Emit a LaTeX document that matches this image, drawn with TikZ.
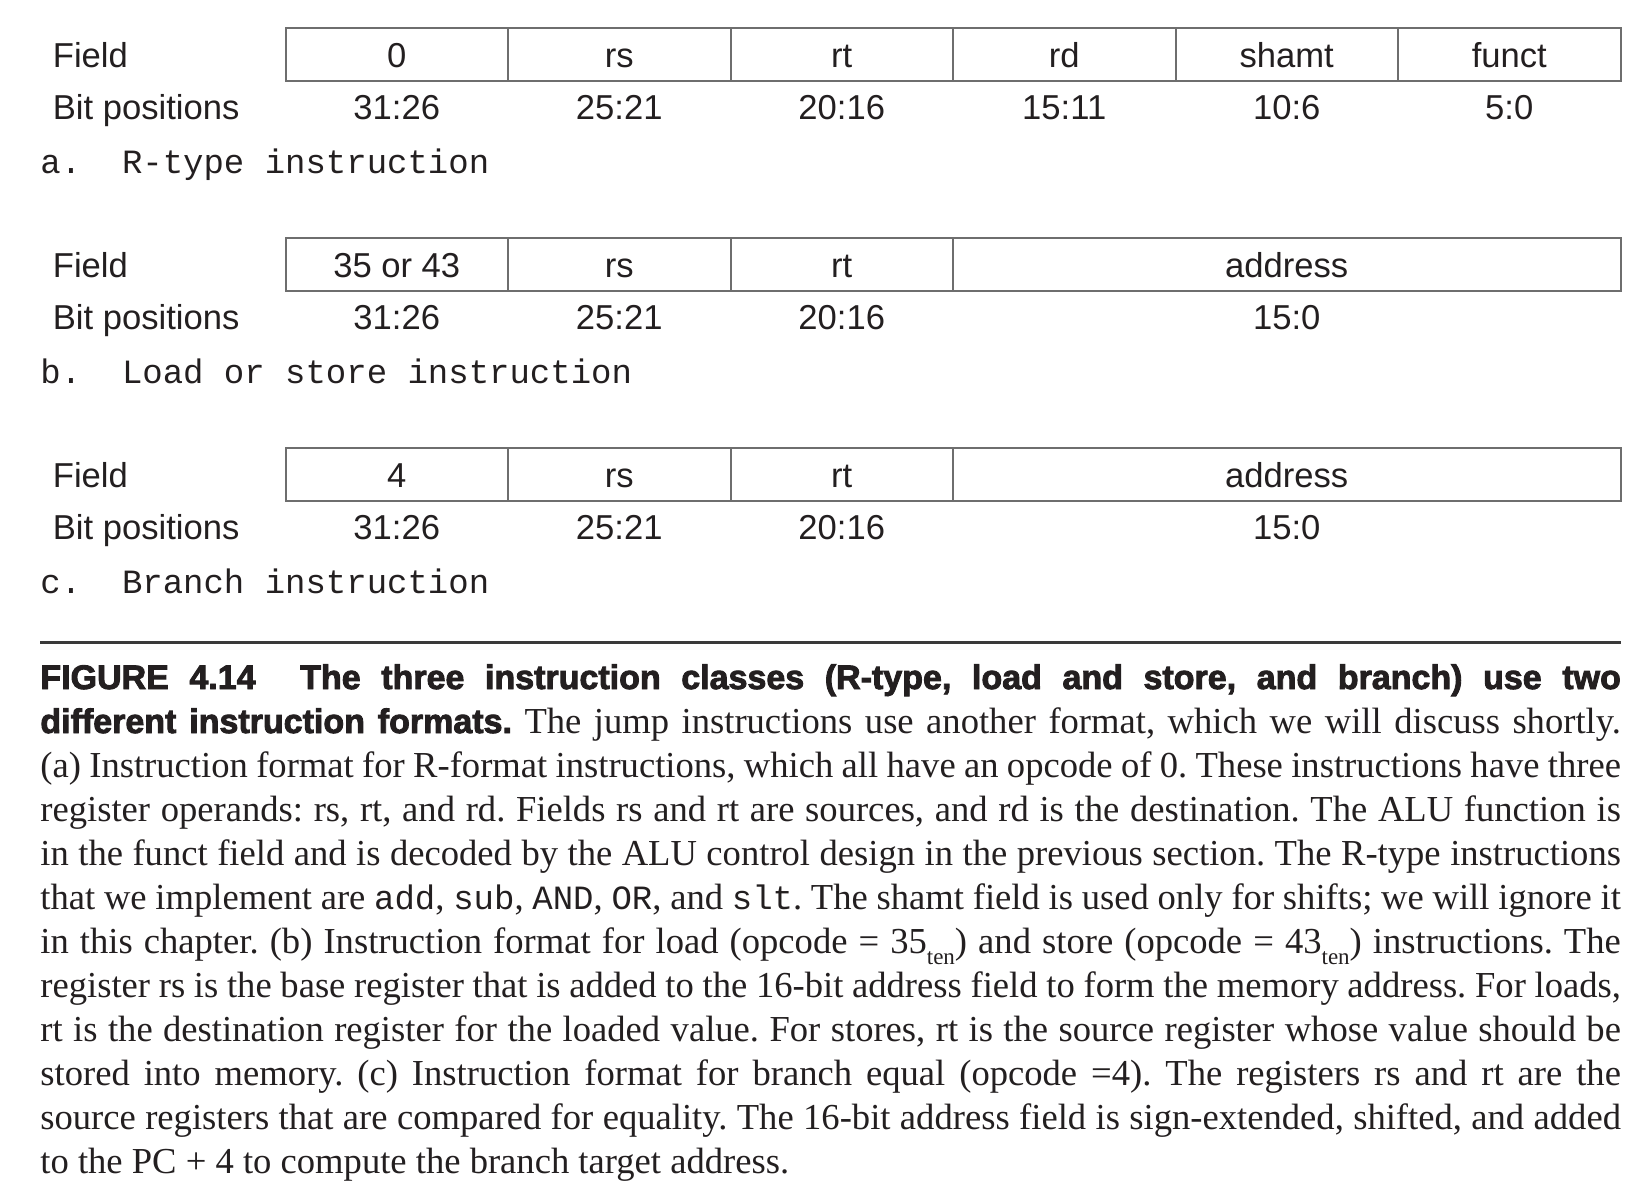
\documentclass[tikz,border=0pt]{standalone}
\usepackage{fontspec}
\setmainfont{Liberation Serif}
\newfontfamily\lblfont{Liberation Sans}
\newfontfamily\kindfont{Liberation Mono}
\newfontfamily\headfont[BoldFeatures={FakeBold=2.6}]{Liberation Sans}
\usetikzlibrary{positioning}

\definecolor{boxgray}{HTML}{6E6E6E}
\definecolor{rulegray}{HTML}{3A3A3A}
\definecolor{inkblack}{HTML}{231F20}

\newcommand\lblsize{\lblfont\fontsize{17.3}{20}\selectfont}
\newcommand\capsize{\fontsize{18.3}{22}\selectfont\frenchspacing}
\newcommand\monoword[1]{{\kindfont\fontsize{17}{20}\selectfont #1}}
\newcommand\tensub{\raisebox{-5.5pt}{\fontsize{11.5}{11.5}\selectfont ten}}
\newcommand\fullline[1]{\makebox[790.25pt][s]{#1}}

\tikzset{
  cell/.style={draw=boxgray, line width=1pt, minimum width=111.25pt,
    minimum height=26.25pt, inner sep=0pt, outer sep=0pt, text height=12.4pt,
    text depth=0pt, font=\lblsize, text=inkblack},
  widecell/.style={cell, minimum width=333.75pt},
  bitlbl/.style={inner sep=0pt, text height=12.4pt, text depth=0pt,
    font=\lblsize, text=inkblack},
  rowlbl/.style={bitlbl, anchor=west},
  kindlbl/.style={anchor=west, inner sep=0pt, text height=11pt,
    text depth=0pt, font=\kindfont\fontsize{17}{20}\selectfont, text=inkblack},
  capline/.style={anchor=base west, inner sep=0pt, font=\capsize,
    text=inkblack}
}

\begin{document}
\begin{tikzpicture}[x=0.5pt, y=-0.5pt]

  % page frame, in pixels of the figure
  \useasboundingbox (0,0) rectangle (1646,1196);

  % a. R-type instruction
  \node[rowlbl] (fa) at (52.5,54.6) {Field};
  \node[rowlbl] (ba) at (52.5,107) {Bit positions};
  \node[cell] (a1) at (396.75,54.6) {0};
  \node[cell, right=0pt of a1] (a2) {rs};
  \node[cell, right=0pt of a2] (a3) {rt};
  \node[cell, right=0pt of a3] (a4) {rd};
  \node[cell, right=0pt of a4] (a5) {shamt};
  \node[cell, right=0pt of a5] (a6) {funct};
  \node[bitlbl] (a1b) at (a1 |- ba) {31:26};
  \node[bitlbl] (a2b) at (a2 |- ba) {25:21};
  \node[bitlbl] (a3b) at (a3 |- ba) {20:16};
  \node[bitlbl] (a4b) at (a4 |- ba) {15:11};
  \node[bitlbl] (a5b) at (a5 |- ba) {10:6};
  \node[bitlbl] (a6b) at (a6 |- ba) {5:0};
  \node[kindlbl] (ka) at (40,162.7) {a.\ \ R-type instruction};

  % b. load or store
  \node[rowlbl] (fb) at (52.5,264.6) {Field};
  \node[rowlbl] (bb) at (52.5,317) {Bit positions};
  \node[cell] (b1) at (396.75,264.6) {35 or 43};
  \node[cell, right=0pt of b1] (b2) {rs};
  \node[cell, right=0pt of b2] (b3) {rt};
  \node[widecell, right=0pt of b3] (b4) {address};
  \node[bitlbl] (b1b) at (b1 |- bb) {31:26};
  \node[bitlbl] (b2b) at (b2 |- bb) {25:21};
  \node[bitlbl] (b3b) at (b3 |- bb) {20:16};
  \node[bitlbl] (b4b) at (b4 |- bb) {15:0};
  \node[kindlbl] (kb) at (40,372.7) {b.\ \ Load or store instruction};

  % c. branch
  \node[rowlbl] (fc) at (52.5,474.6) {Field};
  \node[rowlbl] (bc) at (52.5,527) {Bit positions};
  \node[cell] (c1) at (396.75,474.6) {4};
  \node[cell, right=0pt of c1] (c2) {rs};
  \node[cell, right=0pt of c2] (c3) {rt};
  \node[widecell, right=0pt of c3] (c4) {address};
  \node[bitlbl] (c1b) at (c1 |- bc) {31:26};
  \node[bitlbl] (c2b) at (c2 |- bc) {25:21};
  \node[bitlbl] (c3b) at (c3 |- bc) {20:16};
  \node[bitlbl] (c4b) at (c4 |- bc) {15:0};
  \node[kindlbl] (kc) at (40,582.7) {c.\ \ Branch instruction};

  % rule above the caption
  \coordinate (rl) at (40,642.4);
  \coordinate (rr) at (1620.5,642.4);
  \draw[rulegray, line width=1.5pt] (rl) -- (rr);

  % caption, one node per printed line
  \node[capline] (l1) at (40,689) {\fullline{{\headfont\bfseries\fontsize{17}{22}\selectfont FIGURE 4.14\hspace{12pt} The three instruction classes (R-type, load and store, and branch) use two}}};
  \node[capline] (l2) at (40,733) {\fullline{{\headfont\bfseries\fontsize{17}{22}\selectfont different instruction formats.} The jump instructions use another format, which we will discuss shortly.}};
  \node[capline] (l3) at (40,777) {\fullline{(a) Instruction format for R-format instructions, which all have an opcode of 0. These instructions have three}};
  \node[capline] (l4) at (40,821) {\fullline{register operands: rs, rt, and rd. Fields rs and rt are sources, and rd is the destination. The ALU function is}};
  \node[capline] (l5) at (40,865) {\fullline{in the funct field and is decoded by the ALU control design in the previous section. The R-type instructions}};
  \node[capline] (l6) at (40,909) {\fullline{that we implement are \monoword{add}, \monoword{sub}, \monoword{AND}, \monoword{OR}, and \monoword{slt}. The shamt field is used only for shifts; we will ignore it}};
  \node[capline] (l7) at (40,953) {\fullline{in this chapter. (b) Instruction format for load (opcode = 35\tensub) and store (opcode = 43\tensub) instructions. The}};
  \node[capline] (l8) at (40,997) {\fullline{register rs is the base register that is added to the 16-bit address field to form the memory address. For loads,}};
  \node[capline] (l9) at (40,1041) {\fullline{rt is the destination register for the loaded value. For stores, rt is the source register whose value should be}};
  \node[capline] (l10) at (40,1085) {\fullline{stored into memory. (c) Instruction format for branch equal (opcode =4). The registers rs and rt are the}};
  \node[capline] (l11) at (40,1129) {\fullline{source registers that are compared for equality. The 16-bit address field is sign-extended, shifted, and added}};
  \node[capline] (l12) at (40,1173) {to the PC + 4 to compute the branch target address.};

\end{tikzpicture}
\end{document}
